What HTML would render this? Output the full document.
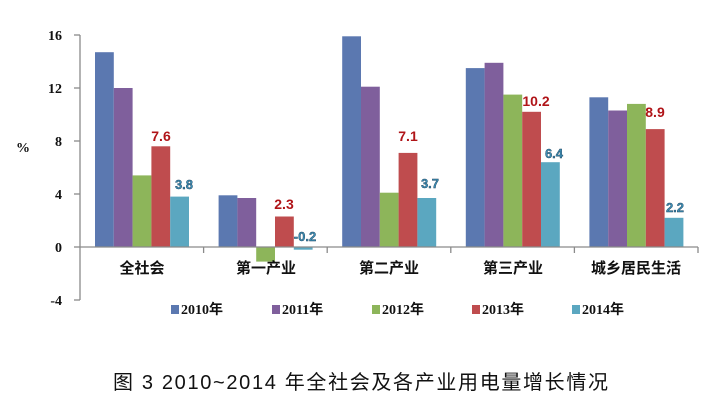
<!DOCTYPE html>
<html><head><meta charset="utf-8"><style>
html,body{margin:0;padding:0;background:#fff;}
svg{display:block}
.t{font-family:"Liberation Serif","Noto Serif CJK SC",serif;font-weight:bold;font-size:14px;fill:#111}
.c{font-family:"Liberation Sans","Noto Sans CJK SC",sans-serif;font-weight:bold;font-size:15px;fill:#111}
.lg{font-family:"Liberation Serif","Noto Sans CJK SC",serif;font-weight:bold;font-size:14px;fill:#111}
.r{font-family:"Liberation Sans",sans-serif;font-weight:bold;font-size:14px;fill:#b01418}
.b{font-family:"Liberation Sans",sans-serif;font-weight:bold;font-size:13px;fill:#3d8fb5;stroke:#1a3a55;stroke-width:0.4}
.cap{font-family:"Liberation Sans","Noto Sans CJK SC",sans-serif;font-size:20px;fill:#111}
</style></head><body>
<svg width="716" height="404" xmlns="http://www.w3.org/2000/svg">
<g>
<rect x="95" y="52.2" width="18.8" height="194.8" fill="#5b78b0"/>
<rect x="113.8" y="88" width="18.8" height="159" fill="#7f5f9c"/>
<rect x="132.6" y="175.4" width="18.8" height="71.6" fill="#8db55a"/>
<rect x="151.4" y="146.3" width="18.8" height="100.7" fill="#bf4c4e"/>
<rect x="170.2" y="196.6" width="18.8" height="50.4" fill="#5ba7c0"/>
<rect x="218.6" y="195.3" width="18.8" height="51.7" fill="#5b78b0"/>
<rect x="237.4" y="198" width="18.8" height="49" fill="#7f5f9c"/>
<rect x="256.2" y="247" width="18.8" height="14.6" fill="#8db55a"/>
<rect x="275" y="216.5" width="18.8" height="30.5" fill="#bf4c4e"/>
<rect x="293.8" y="247" width="18.8" height="2.7" fill="#5ba7c0"/>
<rect x="342.2" y="36.3" width="18.8" height="210.7" fill="#5b78b0"/>
<rect x="361" y="86.7" width="18.8" height="160.3" fill="#7f5f9c"/>
<rect x="379.8" y="192.7" width="18.8" height="54.3" fill="#8db55a"/>
<rect x="398.6" y="152.9" width="18.8" height="94.1" fill="#bf4c4e"/>
<rect x="417.4" y="198" width="18.8" height="49" fill="#5ba7c0"/>
<rect x="465.8" y="68.1" width="18.8" height="178.9" fill="#5b78b0"/>
<rect x="484.6" y="62.8" width="18.8" height="184.2" fill="#7f5f9c"/>
<rect x="503.4" y="94.6" width="18.8" height="152.4" fill="#8db55a"/>
<rect x="522.2" y="111.8" width="18.8" height="135.2" fill="#bf4c4e"/>
<rect x="541" y="162.2" width="18.8" height="84.8" fill="#5ba7c0"/>
<rect x="589.4" y="97.3" width="18.8" height="149.7" fill="#5b78b0"/>
<rect x="608.2" y="110.5" width="18.8" height="136.5" fill="#7f5f9c"/>
<rect x="627" y="103.9" width="18.8" height="143.1" fill="#8db55a"/>
<rect x="645.8" y="129.1" width="18.8" height="117.9" fill="#bf4c4e"/>
<rect x="664.6" y="217.8" width="18.8" height="29.2" fill="#5ba7c0"/>
</g>
<g fill="none" stroke="#8a8a8a" stroke-width="1.3">
<line x1="80" y1="35" x2="80" y2="300"/>
<line x1="74" y1="35" x2="80" y2="35"/>
<line x1="74" y1="88" x2="80" y2="88"/>
<line x1="74" y1="141" x2="80" y2="141"/>
<line x1="74" y1="194" x2="80" y2="194"/>
<line x1="74" y1="247" x2="80" y2="247"/>
<line x1="74" y1="300" x2="80" y2="300"/>
<line x1="80" y1="247" x2="698" y2="247"/>
<line x1="203.6" y1="247" x2="203.6" y2="253"/>
<line x1="327.2" y1="247" x2="327.2" y2="253"/>
<line x1="450.8" y1="247" x2="450.8" y2="253"/>
<line x1="574.4" y1="247" x2="574.4" y2="253"/>
<line x1="698" y1="247" x2="698" y2="253"/>
</g>
<g class="t" text-anchor="end">
<text x="62" y="40">16</text><text x="62" y="93">12</text><text x="62" y="146">8</text>
<text x="62" y="199">4</text><text x="62" y="252">0</text><text x="62" y="305">-4</text>
</g>
<text class="t" x="16" y="152">%</text>
<g class="c" text-anchor="middle">
<text x="142" y="273">全社会</text><text x="266" y="273">第一产业</text><text x="389" y="273">第二产业</text>
<text x="513" y="273">第三产业</text><text x="636" y="273">城乡居民生活</text>
</g>
<g class="r" text-anchor="middle">
<text x="161" y="141">7.6</text><text x="284" y="209">2.3</text><text x="408" y="141">7.1</text>
<text x="536" y="106">10.2</text><text x="655" y="117">8.9</text>
</g>
<g class="b" text-anchor="middle">
<text x="184" y="189">3.8</text><text x="305" y="241">-0.2</text><text x="430" y="188">3.7</text>
<text x="554" y="158">6.4</text><text x="675" y="212">2.2</text>
</g>
<g class="lg">
<rect x="171" y="305" width="8" height="9" fill="#5b78b0"/><text x="181" y="314">2010年</text>
<rect x="272" y="305" width="8" height="9" fill="#7f5f9c"/><text x="282" y="314">2011年</text>
<rect x="372" y="305" width="8" height="9" fill="#8db55a"/><text x="382" y="314">2012年</text>
<rect x="472" y="305" width="8" height="9" fill="#bf4c4e"/><text x="482" y="314">2013年</text>
<rect x="572" y="305" width="8" height="9" fill="#5ba7c0"/><text x="582" y="314">2014年</text>
</g>
<text class="cap" x="113" y="389" textLength="495">图 3  2010~2014 年全社会及各产业用电量增长情况</text>
</svg>
</body></html>
